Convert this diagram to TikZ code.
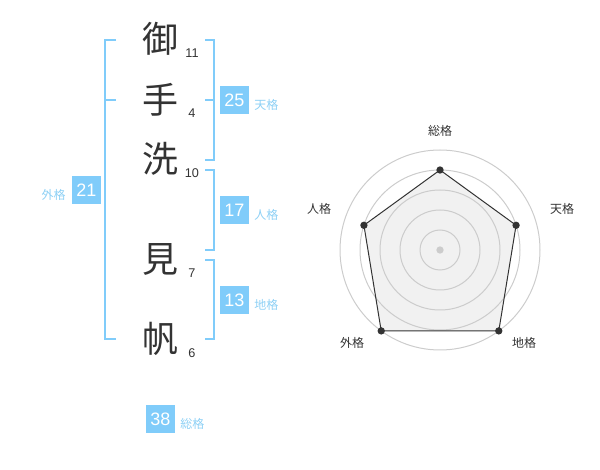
\documentclass[tikz,border=0pt]{standalone}
\usepackage{fontspec}
\usetikzlibrary{calc}
\setmainfont{Liberation Sans}
\newfontfamily\cjk{Noto Sans CJK JP}
\definecolor{blu}{HTML}{80CCFA}
\definecolor{lbl}{HTML}{8DD0F5}
\definecolor{ink}{HTML}{333333}
\definecolor{ring}{HTML}{CCCCCC}
\definecolor{area}{HTML}{F1F1F1}
\begin{document}
\begin{tikzpicture}[x=0.75pt,y=-0.75pt,
  kanji/.style={font=\cjk\fontsize{27}{27}\selectfont, text=ink, inner sep=0pt},
  strokes/.style={font=\fontsize{9.5}{10}\selectfont, text=ink, inner sep=0pt},
  numbox/.style={fill=blu, text=white, font=\fontsize{13.5}{14}\selectfont, minimum width=21.75pt, minimum height=21pt, inner sep=0pt},
  kaku/.style={font=\cjk\fontsize{9}{9}\selectfont, text=lbl, inner sep=0pt},
  brk/.style={draw=blu, line width=1.5pt},
  axislbl/.style={font=\cjk\fontsize{9}{9}\selectfont, text=ink, inner sep=0pt},
  ringline/.style={draw=ring, line width=0.75pt},
  datadot/.style={circle, fill=ink, inner sep=0pt, minimum size=5.5pt},
]
\useasboundingbox (0,0) rectangle (600,470);
% characters
\node[kanji] (c1) at (160,39) {御};
\node[kanji] (c2) at (160,100) {手};
\node[kanji] (c3) at (160,159) {洗};
\node[kanji] (c4) at (160,259) {見};
\node[kanji] (c5) at (160,339) {帆};
\node[strokes] (n1) at (192,53) {11};
\node[strokes] (n2) at (192,113) {4};
\node[strokes] (n3) at (192,173) {10};
\node[strokes] (n4) at (192,273) {7};
\node[strokes] (n5) at (192,353) {6};
% left bracket (gaikaku)
\coordinate (la) at (116,40); \coordinate (lb) at (105,40);
\coordinate (lc) at (105,339); \coordinate (ld) at (116,339);
\coordinate (le) at (105,100); \coordinate (lf) at (116,100);
\draw[brk] (la) -- (lb) -- (lc) -- (ld);
\draw[brk] (le) -- (lf);
% right bracket tenkaku
\coordinate (ta) at (205,40); \coordinate (tb) at (214,40);
\coordinate (tc) at (214,160); \coordinate (td) at (205,160);
\coordinate (te) at (205,100); \coordinate (tf) at (214,100);
\draw[brk] (ta) -- (tb) -- (tc) -- (td);
\draw[brk] (te) -- (tf);
% jinkaku
\coordinate (ja) at (205,170); \coordinate (jb) at (214,170);
\coordinate (jc) at (214,250); \coordinate (jd) at (205,250);
\draw[brk] (ja) -- (jb) -- (jc) -- (jd);
% chikaku
\coordinate (ca) at (205,260); \coordinate (cb) at (214,260);
\coordinate (cc) at (214,339); \coordinate (cd) at (205,339);
\draw[brk] (ca) -- (cb) -- (cc) -- (cd);
% boxes
\node[numbox] (b25) at (234.5,100) {25};
\node[kaku, anchor=west] (k25) at (254,104.5) {天格};
\node[numbox] (b17) at (234.5,210) {17};
\node[kaku, anchor=west] (k17) at (254,214.5) {人格};
\node[numbox] (b13) at (234.5,300) {13};
\node[kaku, anchor=west] (k13) at (254,304.5) {地格};
\node[numbox] (b21) at (86.5,190) {21};
\node[kaku, anchor=east] (k21) at (66,194.5) {外格};
\node[numbox] (b38) at (160.5,419) {38};
\node[kaku, anchor=west] (k38) at (180,423.5) {総格};
% radar
\coordinate (o) at (440,250);
\coordinate (p1) at ($(o)+(-90:80)$);
\coordinate (p2) at ($(o)+(-18:80)$);
\coordinate (p3) at ($(o)+(54:100)$);
\coordinate (p4) at ($(o)+(126:100)$);
\coordinate (p5) at ($(o)+(198:80)$);
\fill[area] (p1) -- (p2) -- (p3) -- (p4) -- (p5) -- cycle;
\foreach \r in {20,40,60,80,100} \draw[ringline] (o) circle (\r);
\draw[ink, line width=0.75pt] (p1) -- (p2) -- (p3) -- (p4) -- (p5) -- cycle;
\node[circle, fill=ring, inner sep=0pt, minimum size=5.5pt] (oc) at (o) {};
\foreach \p in {p1,p2,p3,p4,p5} \node[datadot] (d\p) at (\p) {};
\node[axislbl] (a1) at (440,131) {総格};
\node[axislbl] (a2) at (562,209) {天格};
\node[axislbl] (a3) at (524,342.5) {地格};
\node[axislbl] (a4) at (352,342.5) {外格};
\node[axislbl] (a5) at (319,209) {人格};
\end{tikzpicture}
\end{document}
